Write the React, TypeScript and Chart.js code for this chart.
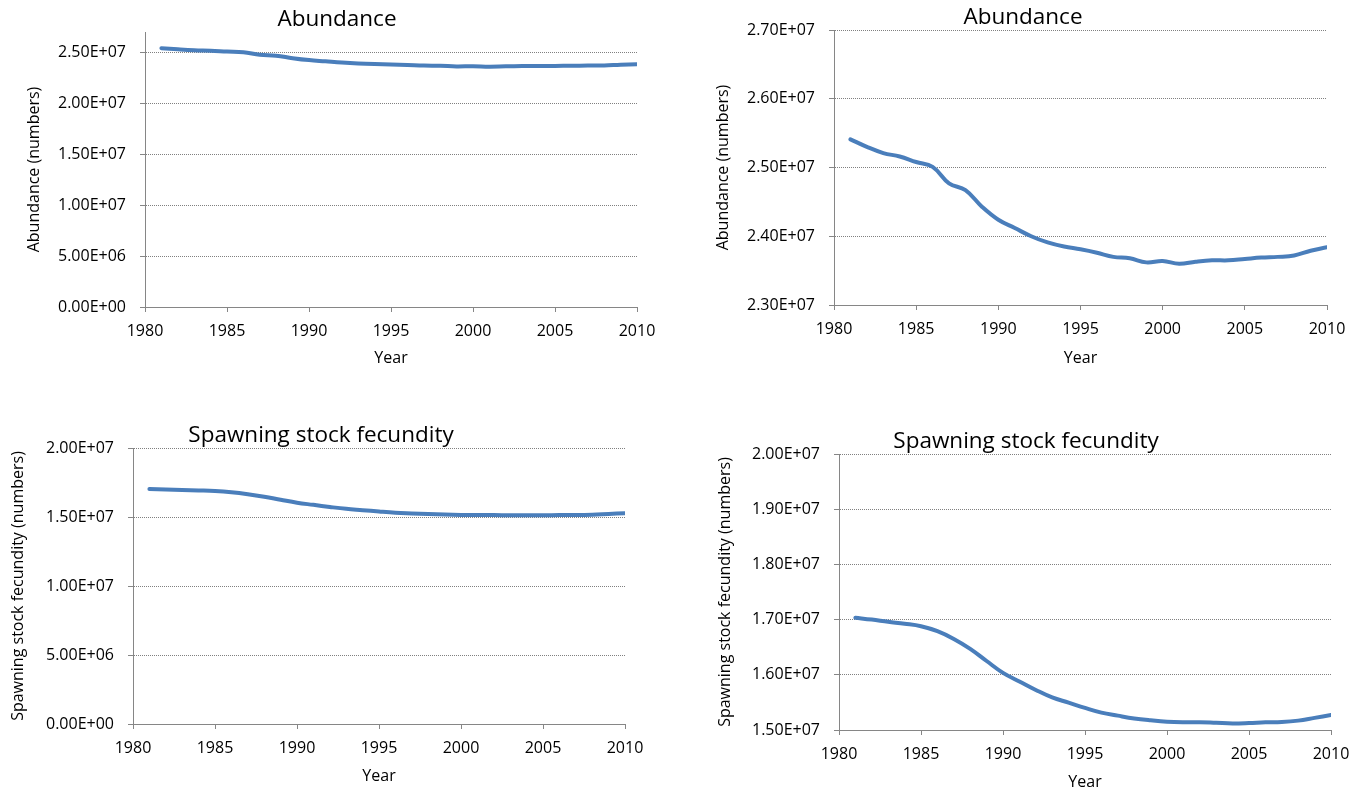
import React, { useEffect, useRef } from "react";
import { Chart, registerables } from "chart.js";

Chart.register(...registerables);

// ---------- data ----------
const years = [
  1981, 1982, 1983, 1984, 1985, 1986, 1987, 1988, 1989, 1990,
  1991, 1992, 1993, 1994, 1995, 1996, 1997, 1998, 1999, 2000,
  2001, 2002, 2003, 2004, 2005, 2006, 2007, 2008, 2009, 2010,
];

const abundance = [
  2.541e7, 2.530e7, 2.521e7, 2.516e7, 2.508e7, 2.501e7, 2.477e7, 2.467e7, 2.443e7, 2.424e7,
  2.412e7, 2.400e7, 2.391e7, 2.385e7, 2.381e7, 2.376e7, 2.370e7, 2.368e7, 2.362e7, 2.364e7,
  2.360e7, 2.363e7, 2.365e7, 2.365e7, 2.367e7, 2.369e7, 2.370e7, 2.372e7, 2.379e7, 2.384e7,
];

const fecundity = [
  1.7034e7, 1.700e7, 1.696e7, 1.6925e7, 1.688e7, 1.679e7, 1.665e7, 1.647e7, 1.625e7, 1.6035e7,
  1.588e7, 1.5726e7, 1.559e7, 1.5496e7, 1.540e7, 1.5315e7, 1.526e7, 1.521e7, 1.5176e7, 1.515e7,
  1.514e7, 1.514e7, 1.513e7, 1.512e7, 1.5127e7, 1.514e7, 1.5145e7, 1.517e7, 1.522e7, 1.527e7,
];

const yearTicks = [1980, 1985, 1990, 1995, 2000, 2005, 2010];
const abundanceTicksFull = [0, 5e6, 1e7, 1.5e7, 2e7, 2.5e7];
const abundanceTicksZoom = [2.3e7, 2.4e7, 2.5e7, 2.6e7, 2.7e7];
const fecundityTicksFull = [0, 5e6, 1e7, 1.5e7, 2e7];
const fecundityTicksZoom = [1.5e7, 1.6e7, 1.7e7, 1.8e7, 1.9e7, 2.0e7];

const titleAbundance = "Abundance";
const titleFecundity = "Spawning stock fecundity";
const yTitleAbundance = "Abundance (numbers)";
const yTitleFecundity = "Spawning stock fecundity (numbers)";
const xTitle = "Year";

// ---------- layout / style ----------
const FONT = "'Open Sans', 'DejaVu Sans', sans-serif";
const LINE_COLOR = "#4A7EBB";
const AXIS_COLOR = "#868686";
const GRID_COLOR = "#808080";
const TITLE_SIZE = 22.5;
const TITLE_LH = 1.1;
const TITLE_H = TITLE_SIZE * TITLE_LH;
const LABEL_SIZE = 16;
const HALF_LABEL_LH = (LABEL_SIZE * 1.2) / 2;
const SIDE_PAD = 40;

type Box = {
  titleX: number;
  L: number; T: number; R: number; B: number;
  yTitleX: number; yearY: number; cy: number;
};

type Panel = {
  title: string;
  yTitle: string;
  values: number[];
  ticks: number[];
  yMin: number;
  yMax: number;
  box: Box;
};

const panels: Panel[] = [
  {
    title: titleAbundance, yTitle: yTitleAbundance, values: abundance,
    ticks: abundanceTicksFull, yMin: 0, yMax: 2.7e7,
    box: { titleX: 337, cy: 0, L: 145, T: 32, R: 637, B: 307, yTitleX: 34, yearY: 358.5 },
  },
  {
    title: titleAbundance, yTitle: yTitleAbundance, values: abundance,
    ticks: abundanceTicksZoom, yMin: 2.3e7, yMax: 2.7e7,
    box: { titleX: 1023, cy: 0, L: 834, T: 30, R: 1327, B: 305, yTitleX: 723, yearY: 358 },
  },
  {
    title: titleFecundity, yTitle: yTitleFecundity, values: fecundity,
    ticks: fecundityTicksFull, yMin: 0, yMax: 2.0e7,
    box: { titleX: 321, cy: 420, L: 133, T: 448, R: 625, B: 724, yTitleX: 18, yearY: 776 },
  },
  {
    title: titleFecundity, yTitle: yTitleFecundity, values: fecundity,
    ticks: fecundityTicksZoom, yMin: 1.5e7, yMax: 2.0e7,
    box: { titleX: 1026, cy: 420, L: 839, T: 454, R: 1331, B: 730, yTitleX: 725, yearY: 782 },
  },
];

function fmtSci(v: number): string {
  if (v === 0) return "0.00E+00";
  const exp = Math.floor(Math.log10(Math.abs(v)) + 1e-9);
  const mant = v / Math.pow(10, exp);
  return `${mant.toFixed(2)}E+${String(exp).padStart(2, "0")}`;
}

function geometry(b: Box) {
  // symmetric side padding keeps the title centred on the canvas
  const right = b.R + SIDE_PAD;
  const cx = 2 * b.titleX - right;
  const cw = right - cx;
  const xAxisH = b.yearY - b.B + HALF_LABEL_LH;
  const ch = Math.ceil(b.B + xAxisH - b.cy);
  return { cx, cw, ch, xAxisH };
}

function PanelChart({ panel }: { panel: Panel }) {
  const ref = useRef<HTMLCanvasElement | null>(null);
  const b = panel.box;
  const { cx, cw, ch, xAxisH } = geometry(b);

  useEffect(() => {
    if (!ref.current) return;
    const scaleLeft = cx + SIDE_PAD;
    const yAxisW = b.L - scaleLeft;
    const chart = new Chart(ref.current, {
      type: "line",
      data: {
        datasets: [
          {
            data: years.map((y, i) => ({ x: y, y: panel.values[i] })),
            borderColor: LINE_COLOR,
            borderWidth: 4,
            pointRadius: 0,
            pointHoverRadius: 0,
            tension: 0.4,
            borderCapStyle: "round",
            borderJoinStyle: "round",
            fill: false,
          },
        ],
      },
      options: {
        animation: false,
        responsive: false,
        devicePixelRatio: 1,
        events: [],
        layout: {
          padding: {
            left: SIDE_PAD,
            top: b.T - TITLE_H - b.cy,
            right: SIDE_PAD,
            bottom: b.cy + ch - (b.B + xAxisH),
          },
        },
        plugins: {
          legend: { display: false },
          tooltip: { enabled: false },
          title: {
            display: true,
            text: panel.title,
            color: "#000",
            font: { family: FONT, size: TITLE_SIZE, weight: "normal", lineHeight: TITLE_LH },
            padding: { top: 0, bottom: 0 },
          },
        },
        scales: {
          x: {
            type: "linear",
            min: 1980,
            max: 2010,
            afterBuildTicks: (s: any) => {
              s.ticks = yearTicks.map((v) => ({ value: v }));
            },
            afterFit: (s: any) => {
              s.height = xAxisH;
              s.paddingLeft = 0;
              s.paddingRight = 0;
            },
            ticks: {
              color: "#000",
              font: { family: FONT, size: LABEL_SIZE },
              padding: 10,
              maxRotation: 0,
              autoSkip: false,
              callback: (v: any) => String(v),
            },
            grid: {
              drawOnChartArea: false,
              drawTicks: true,
              tickLength: 5,
              tickColor: AXIS_COLOR,
              tickWidth: 1,
            },
            border: { display: true, color: AXIS_COLOR, width: 1 },
            title: {
              display: true,
              text: xTitle,
              color: "#000",
              font: { family: FONT, size: LABEL_SIZE },
              padding: { top: 0, bottom: 0 },
            },
          },
          y: {
            type: "linear",
            min: panel.yMin,
            max: panel.yMax,
            afterBuildTicks: (s: any) => {
              s.ticks = panel.ticks.map((v) => ({ value: v }));
            },
            afterFit: (s: any) => {
              s.width = yAxisW;
            },
            ticks: {
              color: "#000",
              font: { family: FONT, size: LABEL_SIZE },
              padding: 14,
              autoSkip: false,
              callback: (v: any) => fmtSci(Number(v)),
            },
            grid: {
              drawOnChartArea: true,
              drawTicks: true,
              tickLength: 5,
              color: GRID_COLOR,
              lineWidth: 1,
              tickColor: AXIS_COLOR,
              tickWidth: 1,
              tickBorderDash: [],
            },
            border: { display: true, color: AXIS_COLOR, width: 1, dash: [1, 1] },
            title: {
              display: true,
              text: panel.yTitle,
              color: "#000",
              font: { family: FONT, size: LABEL_SIZE },
              padding: { top: b.yTitleX - HALF_LABEL_LH - scaleLeft, bottom: 0 },
            },
          },
        },
      } as any,
    });
    return () => chart.destroy();
  }, []);

  return (
    <canvas
      ref={ref}
      width={cw}
      height={ch}
      style={{ position: "absolute", left: cx, top: b.cy, width: cw, height: ch }}
    />
  );
}

export default function App() {
  return (
    <div
      style={{
        position: "absolute",
        left: 0,
        top: 0,
        width: 1370,
        height: 793,
        background: "#fff",
        overflow: "hidden",
      }}
    >
      {panels.map((p, i) => (
        <PanelChart key={i} panel={p} />
      ))}
    </div>
  );
}
